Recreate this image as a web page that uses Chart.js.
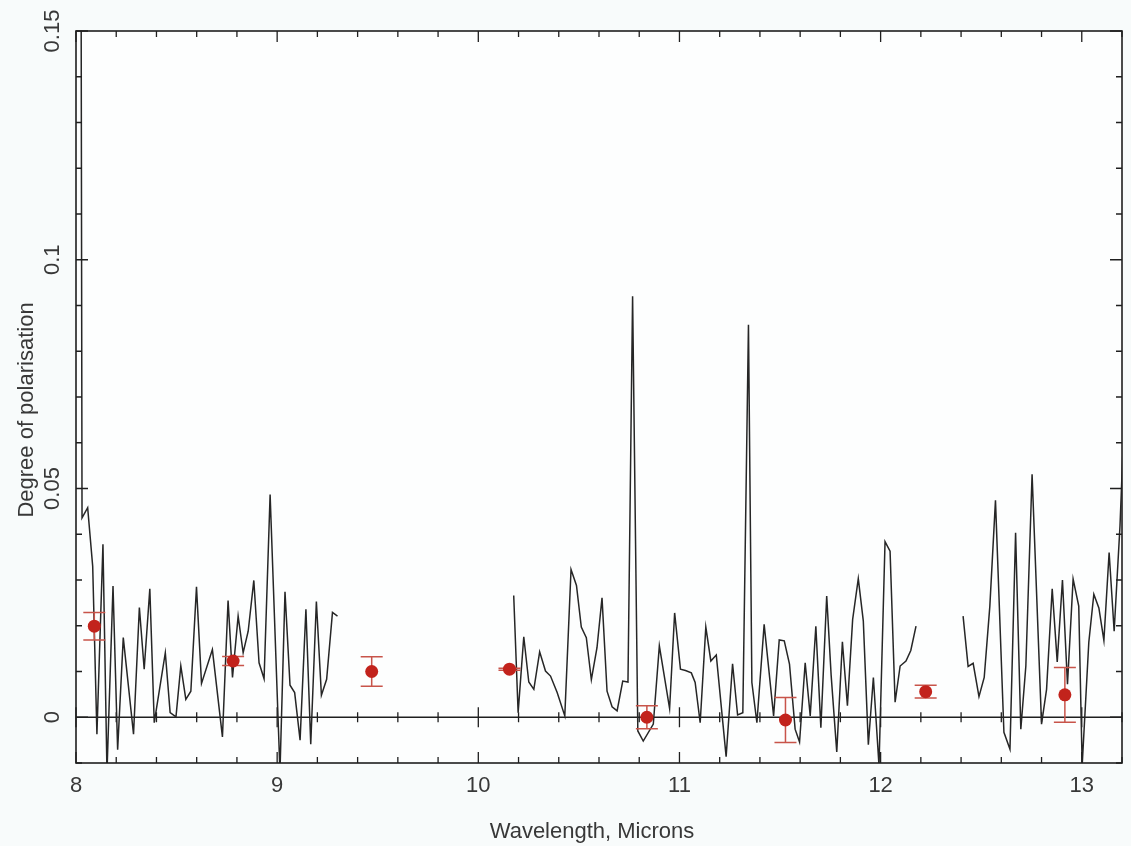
<!DOCTYPE html>
<html lang="en">
<head>
    <meta charset="UTF-8">
    <title>Degree of polarisation vs wavelength</title>
    <script src="https://cdn.jsdelivr.net/npm/chart.js"></script>
    <style>
        * { margin: 0; padding: 0; box-sizing: border-box; }
        html, body { width: 100%; height: 100%; background: #f8fbfb; overflow: hidden; }
        #wrap { width: 1131px; height: 846px; }
    </style>
</head>
<body>
    <div id="wrap"><canvas id="polChart" width="1131" height="846"></canvas></div>

    <script>
        // spectrum, three segments (gaps between them)
        const waveA = [8.025, 8.030, 8.058, 8.083, 8.104, 8.134, 8.154, 8.184, 8.207, 8.235, 8.286, 8.315, 8.339, 8.367, 8.389,
            8.444, 8.468, 8.497, 8.521, 8.546, 8.571, 8.599, 8.624, 8.678, 8.728, 8.756, 8.778, 8.806, 8.831, 8.856,
            8.884, 8.910, 8.935, 8.965, 9.014, 9.039, 9.064, 9.087, 9.114, 9.143, 9.167, 9.195, 9.220, 9.246, 9.275, 9.300];
        const polA = [0.17, 0.0436, 0.0458, 0.033, -0.0037, 0.0378, -0.012, 0.0287, -0.0071, 0.0174, -0.0037, 0.024, 0.0105, 0.0281, -0.0012,
            0.0141, 0.001, 0.0001, 0.0112, 0.0039, 0.0057, 0.0285, 0.0074, 0.0148, -0.0043, 0.0255, 0.0087, 0.0221, 0.0141, 0.0188,
            0.0299, 0.0119, 0.0084, 0.0487, -0.012, 0.0274, 0.007, 0.0054, -0.005, 0.0236, -0.0059, 0.0253, 0.0048, 0.0083, 0.0229, 0.0221];

        const waveB = [10.176, 10.198, 10.226, 10.251, 10.276, 10.305, 10.334, 10.359, 10.392, 10.430, 10.461, 10.488, 10.512, 10.537,
            10.562, 10.590, 10.615, 10.640, 10.665, 10.690, 10.718, 10.744, 10.767, 10.793, 10.820, 10.870, 10.900, 10.951, 10.976,
            11.005, 11.030, 11.059, 11.078, 11.103, 11.131, 11.156, 11.183, 11.232, 11.264, 11.289, 11.315, 11.343, 11.360, 11.385,
            11.421, 11.468, 11.496, 11.521, 11.547, 11.575, 11.597, 11.625, 11.650, 11.678, 11.703, 11.732, 11.754, 11.782, 11.810,
            11.835, 11.861, 11.889, 11.914, 11.939, 11.964, 11.992, 12.022, 12.047, 12.072, 12.097, 12.126, 12.150, 12.176];
        const polB = [0.0266, 0.001, 0.0176, 0.0077, 0.0061, 0.0143, 0.0101, 0.009, 0.0054, 0.0003, 0.0323, 0.0288, 0.0197, 0.0174,
            0.0082, 0.0152, 0.0261, 0.0057, 0.0023, 0.0014, 0.0079, 0.0077, 0.092, -0.003, -0.0052, -0.0015, 0.0156, 0.0019, 0.0228,
            0.0105, 0.0102, 0.0097, 0.0076, -0.0012, 0.0197, 0.0123, 0.0136, -0.0086, 0.0117, 0.0005, 0.001, 0.0858, 0.0076, -0.0012,
            0.0203, 0.0003, 0.0169, 0.0167, 0.0116, -0.0026, -0.0054, 0.0119, 0.0003, 0.0199, -0.0023, 0.0265, 0.0092, -0.0076, 0.0165,
            0.0025, 0.0214, 0.0303, 0.021, -0.006, 0.0087, -0.0106, 0.0384, 0.0363, 0.0033, 0.0112, 0.0123, 0.0146, 0.0199];

        const waveC = [12.410, 12.435, 12.460, 12.489, 12.515, 12.543, 12.571, 12.613, 12.643, 12.671, 12.697, 12.722, 12.753, 12.800,
            12.825, 12.853, 12.878, 12.904, 12.929, 12.957, 12.985, 13.002, 13.035, 13.060, 13.085, 13.110, 13.136, 13.161, 13.190, 13.215];
        const polC = [0.0221, 0.0111, 0.0118, 0.0045, 0.0087, 0.0243, 0.0474, -0.0033, -0.007, 0.0403, -0.0026, 0.0112, 0.0531, -0.0015,
            0.0061, 0.0281, 0.0121, 0.030, 0.0072, 0.0302, 0.0243, -0.0105, 0.0164, 0.0269, 0.0239, 0.0168, 0.036, 0.0188, 0.0418, 0.07];

        // broadband points with error bars
        const ptWave = [8.091, 8.781, 9.47, 10.155, 10.838, 11.527, 12.224, 12.916];
        const ptPol = [0.0199, 0.0123, 0.010, 0.0105, 0.0000, -0.0006, 0.0056, 0.0049];
        const ptErr = [0.003, 0.001, 0.0032, 0.0002, 0.0025, 0.0049, 0.0014, 0.006];

        // axes
        const xTicks = [8, 9, 10, 11, 12, 13];
        const yTicks = [0, 0.05, 0.1, 0.15];
        const yTickLabels = ['0', '0.05', '0.1', '0.15'];
        const xTitle = 'Wavelength, Microns';
        const yTitle = 'Degree of polarisation';

        const toXY = (xs, ys) => xs.map((x, i) => ({ x: x, y: ys[i] }));

        const lineStyle = {
            showLine: true, borderColor: '#262626', borderWidth: 1.5,
            pointRadius: 0, tension: 0, fill: false
        };

        const ink = '#1f1f1f';
        const labelFont = '22px "Liberation Sans", Arial, sans-serif';

        const framePlugin = {
            id: 'frame',
            beforeDraw(chart) {
                const a = chart.chartArea, c = chart.ctx;
                c.save();
                c.fillStyle = '#fdfefe';
                c.fillRect(a.left, a.top, a.right - a.left, a.bottom - a.top);
                c.restore();
            },
            beforeDatasetsDraw(chart) {
                // zero line with its own ticks
                const a = chart.chartArea, c = chart.ctx;
                const xs = chart.scales.x, ys = chart.scales.y;
                const y0 = ys.getPixelForValue(0);
                c.save();
                c.strokeStyle = ink; c.lineWidth = 1.5;
                c.beginPath(); c.moveTo(a.left, y0); c.lineTo(a.right, y0); c.stroke();
                c.lineWidth = 1.3;
                for (let k = 0; k <= 26; k++) {
                    const v = 8 + k * 0.2;
                    const px = xs.getPixelForValue(v);
                    const h = (k % 5 === 0) ? 10 : 5;
                    c.beginPath(); c.moveTo(px, y0 - h); c.lineTo(px, y0 + h); c.stroke();
                }
                c.restore();
            },
            beforeDatasetDraw(chart, args) {
                if (args.index !== 0) return;
                const c = chart.ctx, xs = chart.scales.x, ys = chart.scales.y;
                c.save();
                c.strokeStyle = '#c8544a'; c.lineWidth = 1.5;
                ptWave.forEach((w, i) => {
                    const px = xs.getPixelForValue(w);
                    const yt = ys.getPixelForValue(ptPol[i] + ptErr[i]);
                    const yb = ys.getPixelForValue(ptPol[i] - ptErr[i]);
                    c.beginPath();
                    c.moveTo(px, yt); c.lineTo(px, yb);
                    c.moveTo(px - 11, yt); c.lineTo(px + 11, yt);
                    c.moveTo(px - 11, yb); c.lineTo(px + 11, yb);
                    c.stroke();
                });
                c.restore();
            },
            afterDatasetsDraw(chart) {
                const a = chart.chartArea, c = chart.ctx;
                const xs = chart.scales.x, ys = chart.scales.y;
                c.save();
                c.strokeStyle = ink; c.lineWidth = 1.6;
                c.strokeRect(a.left, a.top, a.right - a.left, a.bottom - a.top);
                c.lineWidth = 1.3;
                // x ticks on bottom and top
                for (let k = 0; k <= 26; k++) {
                    const px = xs.getPixelForValue(8 + k * 0.2);
                    const h = (k % 5 === 0) ? 11 : 6;
                    c.beginPath();
                    c.moveTo(px, a.bottom); c.lineTo(px, a.bottom - h);
                    c.moveTo(px, a.top); c.lineTo(px, a.top + h);
                    c.stroke();
                }
                // y ticks on left and right
                for (let k = 0; k <= 16; k++) {
                    const v = -0.01 + k * 0.01;
                    const py = ys.getPixelForValue(v);
                    const h = (Math.abs(Math.round(v * 100)) % 5 === 0) ? 12 : 6;
                    c.beginPath();
                    c.moveTo(a.left, py); c.lineTo(a.left + h, py);
                    c.moveTo(a.right, py); c.lineTo(a.right - h, py);
                    c.stroke();
                }
                // labels
                c.fillStyle = '#383838';
                c.font = labelFont;
                c.textAlign = 'center';
                c.textBaseline = 'alphabetic';
                xTicks.forEach(v => c.fillText(String(v), xs.getPixelForValue(v), 792));
                c.fillText(xTitle, 592, 838);
                yTicks.forEach((v, i) => {
                    c.save();
                    c.translate(59, ys.getPixelForValue(v));
                    c.rotate(-Math.PI / 2);
                    c.fillText(yTickLabels[i], 0, 0);
                    c.restore();
                });
                c.save();
                c.translate(33, 410);
                c.rotate(-Math.PI / 2);
                c.fillText(yTitle, 0, 0);
                c.restore();
                c.restore();
            }
        };

        new Chart(document.getElementById('polChart').getContext('2d'), {
            type: 'scatter',
            data: {
                datasets: [
                    {
                        label: 'Broadband', data: toXY(ptWave, ptPol),
                        pointRadius: 6.5, pointBackgroundColor: '#c2231c', pointBorderColor: '#c2231c', pointBorderWidth: 0
                    },
                    Object.assign({ label: 'Spectrum A', data: toXY(waveA, polA) }, lineStyle),
                    Object.assign({ label: 'Spectrum B', data: toXY(waveB, polB) }, lineStyle),
                    Object.assign({ label: 'Spectrum C', data: toXY(waveC, polC) }, lineStyle)
                ]
            },
            options: {
                responsive: false,
                animation: false,
                layout: { padding: { left: 76, right: 9, top: 31, bottom: 83 } },
                plugins: { legend: { display: false }, tooltip: { enabled: false } },
                scales: {
                    x: { type: 'linear', min: 8, max: 13.2, display: false },
                    y: { type: 'linear', min: -0.01, max: 0.15, display: false }
                }
            },
            plugins: [framePlugin]
        });
    </script>
</body>
</html>
